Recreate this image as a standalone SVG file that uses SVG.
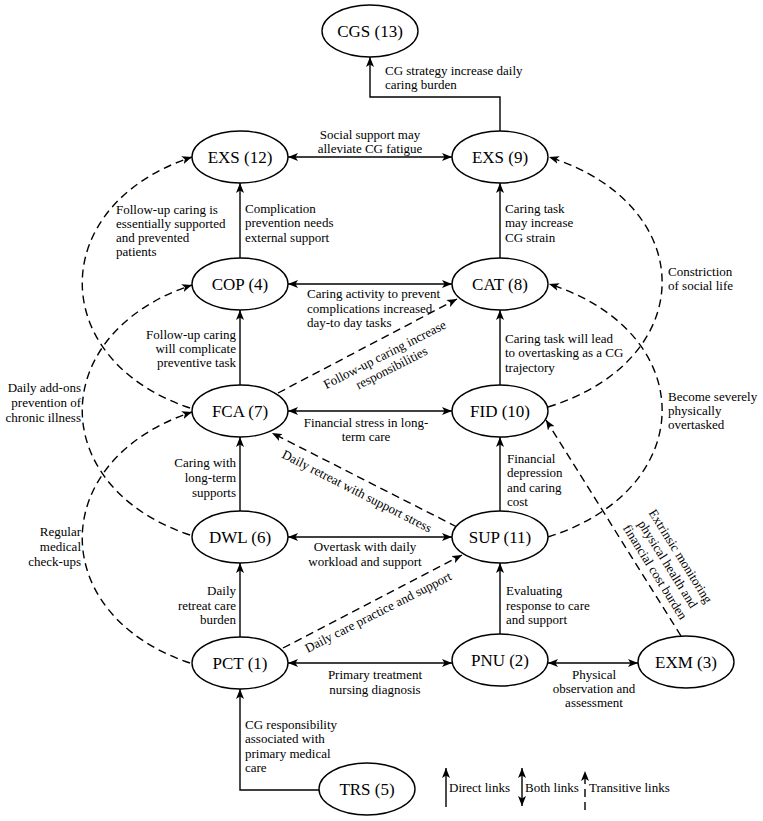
<svg xmlns="http://www.w3.org/2000/svg" width="763" height="821" viewBox="0 0 763 821">
<style>
.bg{fill:#fff}
.node ellipse{fill:#fff;stroke:#000;stroke-width:1.4}
.node text{font-family:"Liberation Serif","Times New Roman",serif;font-size:17px;text-anchor:middle;fill:#000}
.lb{font-family:"Liberation Serif","Times New Roman",serif;font-size:13px;fill:#000}
.mid{text-anchor:middle}
.end{text-anchor:end}
#connectors path{fill:none;stroke:#000;stroke-width:1.4}
#connectors .d{stroke-dasharray:8 5}
</style>
<defs>
<marker id="ah" viewBox="0 0 10 8" refX="10" refY="4" markerWidth="10" markerHeight="8" orient="auto-start-reverse" markerUnits="userSpaceOnUse">
<path d="M0,0 L10,4 L0,8 L2.5,4 z" fill="#000"/>
</marker>
</defs>
<rect class="bg" x="0" y="0" width="763" height="821"/>

<g id="connectors">
<path d="M500,131 V97 H370 V57" marker-end="url(#ah)"/>
<path d="M288,157 H452" marker-start="url(#ah)" marker-end="url(#ah)"/>
<path d="M240,258 V183" marker-end="url(#ah)"/>
<path d="M500,258 V183" marker-end="url(#ah)"/>
<path d="M288,284 H452" marker-start="url(#ah)" marker-end="url(#ah)"/>
<path d="M240,385 V310" marker-end="url(#ah)"/>
<path d="M500,385 V310" marker-end="url(#ah)"/>
<path class="d" d="M278,393 L457,299" marker-end="url(#ah)"/>
<path d="M288,411 H452" marker-start="url(#ah)" marker-end="url(#ah)"/>
<path d="M240,511 V437" marker-end="url(#ah)"/>
<path d="M500,511 V437" marker-end="url(#ah)"/>
<path class="d" d="M457,527 L272,433" marker-end="url(#ah)"/>
<path d="M288,537 H452" marker-start="url(#ah)" marker-end="url(#ah)"/>
<path d="M240,637 V563" marker-end="url(#ah)"/>
<path d="M500,634 V563" marker-end="url(#ah)"/>
<path class="d" d="M283,648 L462,555" marker-end="url(#ah)"/>
<path d="M288,663 H452" marker-start="url(#ah)" marker-end="url(#ah)"/>
<path d="M548,663 H638" marker-start="url(#ah)" marker-end="url(#ah)"/>
<path class="d" d="M681,636 L546,420" marker-end="url(#ah)"/>
<path d="M319,790 H240 V689" marker-end="url(#ah)"/>
<path class="d" d="M190,408 C46,360 46,205 192,157" marker-end="url(#ah)"/>
<path class="d" d="M190,535 C46,487 46,333 192,285" marker-end="url(#ah)"/>
<path class="d" d="M190,663 C46,615 46,460 192,412" marker-end="url(#ah)"/>
<path class="d" d="M548,407 C700,360 700,205 549,157" marker-end="url(#ah)"/>
<path class="d" d="M548,537 C700,489 700,332 549,284" marker-end="url(#ah)"/>
<path d="M446,807 V768" marker-end="url(#ah)"/>
<path d="M522,806 V768" marker-start="url(#ah)" marker-end="url(#ah)"/>
<path class="d" d="M585,810 V771" marker-end="url(#ah)"/>
</g>

<g id="labels">
<text class="lb" x="385" y="75">CG strategy increase daily</text>
<text class="lb" x="385" y="89">caring burden</text>
<text class="lb mid" x="370" y="139">Social support may</text>
<text class="lb mid" x="370" y="153">alleviate CG fatigue</text>
<text class="lb" x="116" y="214">Follow-up caring is</text>
<text class="lb" x="116" y="228">essentially supported</text>
<text class="lb" x="116" y="242">and prevented</text>
<text class="lb" x="116" y="256">patients</text>
<text class="lb" x="245" y="213">Complication</text>
<text class="lb" x="245" y="227">prevention needs</text>
<text class="lb" x="245" y="242">external support</text>
<text class="lb" x="505" y="213">Caring task</text>
<text class="lb" x="505" y="227">may increase</text>
<text class="lb" x="505" y="242">CG strain</text>
<text class="lb" x="668" y="276">Constriction</text>
<text class="lb" x="668" y="290">of social life</text>
<text class="lb" x="307" y="298">Caring activity to prevent</text>
<text class="lb" x="307" y="313">complications increased</text>
<text class="lb" x="307" y="327">day-to day tasks</text>
<text class="lb end" x="236" y="339">Follow-up caring</text>
<text class="lb end" x="236" y="353">will complicate</text>
<text class="lb end" x="236" y="367">preventive task</text>
<text class="lb" x="505" y="343">Caring task will lead</text>
<text class="lb" x="505" y="357">to overtasking as a CG</text>
<text class="lb" x="505" y="372">trajectory</text>
<g transform="translate(388,361) rotate(-27)">
<text class="lb mid" x="0" y="-3">Follow-up caring increase</text>
<text class="lb mid" x="0" y="12">responsibilities</text>
</g>
<text class="lb end" x="81" y="392">Daily add-ons</text>
<text class="lb end" x="81" y="407">prevention of</text>
<text class="lb end" x="81" y="422">chronic illness</text>
<text class="lb" x="668" y="401">Become severely</text>
<text class="lb" x="668" y="415">physically</text>
<text class="lb" x="668" y="429">overtasked</text>
<text class="lb mid" x="366" y="427">Financial stress in long-</text>
<text class="lb mid" x="366" y="441">term care</text>
<text class="lb end" x="236" y="467">Caring with</text>
<text class="lb end" x="236" y="482">long-term</text>
<text class="lb end" x="236" y="497">supports</text>
<text class="lb" x="507" y="463">Financial</text>
<text class="lb" x="507" y="477">depression</text>
<text class="lb" x="507" y="492">and caring</text>
<text class="lb" x="507" y="506">cost</text>
<g transform="translate(357,491) rotate(27)">
<text class="lb mid" x="0" y="4.5">Daily retreat with support stress</text>
</g>
<text class="lb end" x="81" y="536">Regular</text>
<text class="lb end" x="81" y="551">medical</text>
<text class="lb end" x="81" y="566">check-ups</text>
<text class="lb mid" x="365" y="551">Overtask with daily</text>
<text class="lb mid" x="365" y="566">workload and support</text>
<g transform="translate(668,564) rotate(58)">
<text class="lb mid" x="0" y="-10.5">Extrinsic monitoring</text>
<text class="lb mid" x="0" y="4.5">physical health and</text>
<text class="lb mid" x="0" y="19.5">financial cost burden</text>
</g>
<text class="lb end" x="236" y="595">Daily</text>
<text class="lb end" x="236" y="610">retreat care</text>
<text class="lb end" x="236" y="624">burden</text>
<g transform="translate(378,612) rotate(-27)">
<text class="lb mid" x="0" y="4.5">Daily care practice and support</text>
</g>
<text class="lb" x="506" y="595">Evaluating</text>
<text class="lb" x="506" y="610">response to care</text>
<text class="lb" x="506" y="624">and support</text>
<text class="lb mid" x="375" y="679">Primary treatment</text>
<text class="lb mid" x="375" y="694">nursing diagnosis</text>
<text class="lb mid" x="594" y="679">Physical</text>
<text class="lb mid" x="594" y="693">observation and</text>
<text class="lb mid" x="594" y="707">assessment</text>
<text class="lb" x="245" y="729">CG responsibility</text>
<text class="lb" x="245" y="743">associated with</text>
<text class="lb" x="245" y="758">primary medical</text>
<text class="lb" x="245" y="772">care</text>
<text class="lb" x="449" y="792">Direct links</text>
<text class="lb" x="525" y="792">Both links</text>
<text class="lb" x="589" y="792">Transitive links</text>
</g>

<g id="n13" class="node"><ellipse cx="370" cy="31" rx="48" ry="26"/><text x="370" y="37">CGS (13)</text></g>
<g id="n12" class="node"><ellipse cx="240" cy="157" rx="48" ry="26"/><text x="240" y="163">EXS (12)</text></g>
<g id="n9" class="node"><ellipse cx="500" cy="157" rx="48" ry="26"/><text x="500" y="163">EXS (9)</text></g>
<g id="n4" class="node"><ellipse cx="240" cy="284" rx="48" ry="26"/><text x="240" y="290">COP (4)</text></g>
<g id="n8" class="node"><ellipse cx="500" cy="284" rx="48" ry="26"/><text x="500" y="290">CAT (8)</text></g>
<g id="n7" class="node"><ellipse cx="240" cy="411" rx="48" ry="26"/><text x="240" y="417">FCA (7)</text></g>
<g id="n10" class="node"><ellipse cx="500" cy="411" rx="48" ry="26"/><text x="500" y="417">FID (10)</text></g>
<g id="n6" class="node"><ellipse cx="240" cy="537" rx="48" ry="26"/><text x="240" y="543">DWL (6)</text></g>
<g id="n11" class="node"><ellipse cx="500" cy="537" rx="48" ry="26"/><text x="500" y="543">SUP (11)</text></g>
<g id="n1" class="node"><ellipse cx="240" cy="663" rx="48" ry="26"/><text x="240" y="669">PCT (1)</text></g>
<g id="n2" class="node"><ellipse cx="500" cy="660" rx="48" ry="26"/><text x="500" y="666">PNU (2)</text></g>
<g id="n3" class="node"><ellipse cx="686" cy="662" rx="48" ry="26"/><text x="686" y="668">EXM (3)</text></g>
<g id="n5" class="node"><ellipse cx="367" cy="789" rx="48" ry="26"/><text x="367" y="795">TRS (5)</text></g>
</svg>
